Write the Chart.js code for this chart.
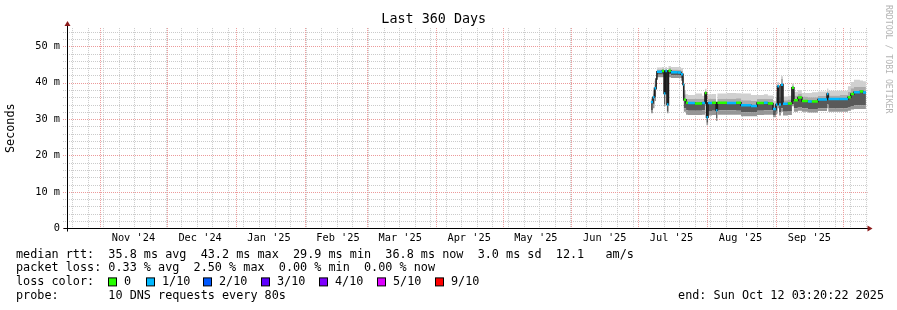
<!DOCTYPE html>
<html lang="en">

<head>
    <meta charset="UTF-8" />
    <title>Last 360 Days</title>
    <script src="https://cdn.jsdelivr.net/npm/chart.js"></script>
    <style>
        body {
            margin: 0;
            background: #fff;
        }

        #wrap {
            width: 897px;
            height: 310px;
        }
    </style>
</head>

<body>
    <div id="wrap"><canvas id="smoke" width="897" height="310"></canvas></div>

    <script>
        // x = days since window start (Oct 17 2024 03:20), values in ms; each step holds until the next one
        const days = [262.6, 263.5, 264.2, 264.9, 265.3, 267.6, 268.5, 269.1, 269.8, 270.5,
            271.6, 274.7, 276.1, 277.0, 277.4, 278.4, 279.3, 282.4, 285.6, 286.9,
            287.6, 288.3, 290.1, 291.9, 292.5, 296.8, 300.9, 303.1, 307.6, 310.3,
            313.4, 315.2, 317.5, 318.8, 319.5, 320.2, 321.1, 322.0, 324.2, 326.0,
            326.9, 328.7, 330.5, 333.2, 335.0, 337.7, 341.8, 342.4, 347.6, 351.2,
            352.5, 353.9, 356.6, 358.0, 359.3];
        const smokeLo = [31.6, 33.0, 35.0, 38.0, 41.5, 41.5, 33.5, 41.5, 31.6, 41.5,
            41.3, 41.3, 40.5, 35.0, 32.0, 31.2, 31.1, 31.1, 31.2, 34.0,
            28.3, 31.0, 31.1, 29.5, 31.2, 31.2, 31.2, 30.8, 30.8, 31.1,
            31.2, 31.2, 30.5, 31.3, 33.0, 31.0, 32.0, 31.0, 31.1, 33.5,
            32.0, 32.3, 32.0, 31.8, 31.8, 32.2, 33.0, 32.0, 32.0, 32.3,
            32.6, 32.8, 32.8, 32.8, 32.8];
        const smokeLoIn = [32.5, 34.0, 36.0, 39.0, 42.2, 42.2, 34.0, 42.2, 32.0, 42.3,
            42.0, 42.0, 41.3, 36.0, 33.0, 32.4, 32.3, 32.3, 32.4, 34.6,
            29.0, 32.2, 32.3, 30.3, 32.4, 32.4, 32.3, 31.9, 31.8, 32.3,
            32.4, 32.4, 31.0, 32.0, 34.0, 31.8, 33.0, 32.0, 32.2, 34.0,
            33.0, 33.3, 33.0, 32.8, 32.8, 33.0, 34.0, 32.9, 33.0, 33.3,
            33.6, 33.8, 33.8, 33.8, 33.8];
        const medianRtt = [34.7, 36.0, 38.5, 41.0, 43.0, 43.2, 37.0, 43.2, 34.0, 43.3,
            42.9, 42.8, 42.3, 39.5, 35.3, 34.5, 34.4, 34.3, 34.4, 37.2,
            30.5, 34.4, 34.5, 32.4, 34.5, 34.4, 34.5, 33.8, 33.6, 34.4,
            34.5, 34.3, 32.8, 34.0, 39.0, 34.0, 39.4, 34.2, 34.3, 38.6,
            35.2, 35.9, 35.0, 34.8, 34.8, 35.4, 36.9, 35.5, 35.5, 36.0,
            36.9, 37.4, 37.6, 37.3, 37.3];
        const smokeHiIn = [35.5, 37.0, 39.5, 42.0, 43.6, 43.8, 42.8, 43.8, 42.5, 44.0,
            43.6, 43.5, 43.2, 41.5, 36.8, 35.6, 35.5, 35.6, 35.5, 37.8,
            33.0, 35.6, 35.6, 34.0, 35.6, 35.6, 35.7, 35.2, 35.0, 35.5,
            35.6, 35.5, 34.0, 36.0, 39.6, 35.0, 41.0, 35.2, 35.4, 39.2,
            36.5, 37.0, 36.2, 36.0, 36.0, 36.4, 37.6, 36.5, 36.6, 37.5,
            38.5, 38.8, 38.9, 38.8, 38.8];
        const smokeHi = [36.1, 38.0, 40.5, 43.0, 44.2, 44.3, 43.6, 44.3, 43.5, 44.6,
            44.3, 44.3, 44.0, 42.5, 38.0, 36.8, 36.6, 37.0, 36.4, 38.3,
            34.0, 36.8, 36.9, 35.0, 37.0, 37.2, 37.1, 37.0, 36.6, 36.6,
            36.8, 36.5, 35.0, 37.5, 40.2, 36.0, 41.8, 36.2, 36.4, 39.8,
            37.5, 38.0, 37.2, 37.2, 37.4, 37.6, 38.4, 37.8, 37.8, 39.0,
            40.2, 40.8, 40.6, 40.4, 40.4];
        // lost pings out of 10 for each step
        const lossCount = [1, 1, 1, 1, 1, 0, 1, 1, 1, 0,
            1, 1, 1, 1, 0, 0, 1, 0, 1, 0,
            1, 1, 0, 1, 0, 1, 0, 1, 1, 0,
            1, 0, 1, 1, 1, 1, 1, 1, 0, 0,
            0, 0, 0, 1, 0, 1, 1, 1, 1, 0,
            0, 1, 0, 1, 1];

        const lossLabels = ['0', '1/10', '2/10', '3/10', '4/10', '5/10', '9/10'];
        const lossColors = ['#26ff00', '#00b8ff', '#0059ff', '#5e00ff', '#7e00ff', '#dd00ff', '#ff0000'];

        const monthStarts = [14.86, 44.86, 75.86, 106.86, 134.86, 165.86, 195.86, 226.86, 256.86, 287.86, 318.86, 348.86];
        const monthTicks = [29.86, 59.86, 90.86, 121.86, 149.86, 180.86, 210.86, 241.86, 271.86, 302.86, 333.86];
        const monthLabels = ["Nov '24", "Dec '24", "Jan '25", "Feb '25", "Mar '25", "Apr '25", "May '25", "Jun '25", "Jul '25", "Aug '25", "Sep '25"];
        const yTicks = [0, 10, 20, 30, 40, 50];

        const legendLines = [
            "median rtt:  35.8 ms avg  43.2 ms max  29.9 ms min  36.8 ms now  3.0 ms sd  12.1   am/s",
            "packet loss: 0.33 % avg  2.50 % max  0.00 % min  0.00 % now",
            "loss color:",
            "probe:       10 DNS requests every 80s"
        ];
        const endText = "end: Sun Oct 12 03:20:22 2025";

        const MONO = "'DejaVu Sans Mono', monospace";
        const GRID_GREY = '#cbcbcb';
        const GRID_RED = '#ec9a9a';

        function pts(arr) {
            return days.map((d, i) => ({ x: d, y: arr[i] }));
        }

        // median as flat pieces only (verticals come from the dark step line underneath)
        const medPieces = [];
        days.forEach((d, i) => {
            if (i === days.length - 1) return;
            medPieces.push({ x: d, y: medianRtt[i] }, { x: days[i + 1], y: medianRtt[i] }, { x: days[i + 1], y: null });
        });

        function band(arr, color) {
            return {
                data: pts(arr),
                xAxisID: 'x', yAxisID: 'y',
                stepped: true,
                borderWidth: 0,
                pointRadius: 0,
                backgroundColor: color,
                fill: '-1',
                order: 2
            };
        }

        // dotted rrdtool-style grid, drawn from the scales' own ticks
        const dottedGrid = {
            id: 'dottedGrid',
            beforeDatasetsDraw(chart) {
                const ctx = chart.ctx, a = chart.chartArea;
                ctx.save();
                ctx.lineWidth = 1;
                ctx.setLineDash([1, 1]);
                const vert = (id, color) => {
                    const s = chart.scales[id];
                    ctx.strokeStyle = color;
                    ctx.beginPath();
                    s.ticks.forEach(t => {
                        const px = Math.round(s.getPixelForValue(t.value)) + 0.5;
                        ctx.moveTo(px, a.top);
                        ctx.lineTo(px, a.bottom);
                    });
                    ctx.stroke();
                };
                const horiz = (id, color) => {
                    const s = chart.scales[id];
                    ctx.strokeStyle = color;
                    ctx.beginPath();
                    s.ticks.forEach(t => {
                        const py = Math.round(s.getPixelForValue(t.value)) + 0.5;
                        ctx.moveTo(a.left - 4, py);
                        ctx.lineTo(a.right, py);
                    });
                    ctx.stroke();
                };
                horiz('yMin', GRID_GREY);
                vert('xMin', GRID_GREY);
                horiz('y', GRID_RED);
                vert('xMaj', GRID_RED);
                ctx.restore();
            }
        };

        const decor = {
            id: 'decor',
            afterDraw(chart) {
                const ctx = chart.ctx, a = chart.chartArea;
                ctx.save();
                const x0 = Math.round(a.left) + 0.5, y0 = Math.round(a.bottom) + 0.5;
                ctx.strokeStyle = '#000';
                ctx.lineWidth = 1;
                ctx.beginPath();
                ctx.moveTo(x0, a.top - 3);
                ctx.lineTo(x0, y0 + 3);
                ctx.moveTo(x0 - 4, y0);
                ctx.lineTo(a.right + 1, y0);
                ctx.stroke();

                ctx.fillStyle = '#8b1a1a';
                ctx.beginPath();
                ctx.moveTo(x0, a.top - 7);
                ctx.lineTo(x0 - 3, a.top - 2);
                ctx.lineTo(x0 + 3, a.top - 2);
                ctx.fill();
                ctx.beginPath();
                ctx.moveTo(a.right + 5, y0);
                ctx.lineTo(a.right, y0 - 3);
                ctx.lineTo(a.right, y0 + 3);
                ctx.fill();

                // legend
                ctx.font = '11.8px ' + MONO;
                ctx.textBaseline = 'middle';
                ctx.textAlign = 'left';
                ctx.fillStyle = '#000';
                const rowY = [254.5, 268.2, 281.9, 295.6];
                legendLines.forEach((t, r) => ctx.fillText(t, 16, rowY[r]));
                const boxX = [108.5, 146.5, 203.5, 261.5, 319.5, 377.5, 435.5];
                lossLabels.forEach((lab, i) => {
                    ctx.fillStyle = lossColors[i];
                    ctx.fillRect(boxX[i], rowY[2] - 4, 8, 8);
                    ctx.strokeStyle = '#000';
                    ctx.strokeRect(boxX[i], rowY[2] - 4, 8, 8);
                    ctx.fillStyle = '#000';
                    ctx.fillText(lab, boxX[i] + 15.5, rowY[2]);
                });
                ctx.textAlign = 'right';
                ctx.fillText(endText, 884, rowY[3]);

                // watermark
                ctx.translate(888, 5);
                ctx.rotate(Math.PI / 2);
                ctx.font = '8.2px ' + MONO;
                ctx.fillStyle = '#b4b4b4';
                ctx.textAlign = 'left';
                ctx.fillText('RRDTOOL / TOBI OETIKER', 0, 0);
                ctx.restore();
            }
        };

        const gridScale = (axis, ticksFn) => ({
            type: 'linear', axis: axis, position: axis === 'x' ? 'bottom' : 'left',
            min: 0, max: axis === 'x' ? 360 : 55,
            grid: { display: false },
            border: { display: false },
            ticks: { display: false },
            afterBuildTicks: s => { s.ticks = ticksFn().map(v => ({ value: v })); },
            afterFit: s => { if (axis === 'x') s.height = 0; else s.width = 0; }
        });

        new Chart(document.getElementById('smoke'), {
            type: 'line',
            data: {
                datasets: [
                    { data: pts(smokeLo), xAxisID: 'x', yAxisID: 'y', stepped: true, borderWidth: 0, pointRadius: 0, fill: false, order: 2 },
                    band(smokeLoIn, '#969696'),
                    band(medianRtt, '#595959'),
                    band(smokeHiIn, '#ababab'),
                    band(smokeHi, '#d0d0d0'),
                    {
                        data: pts(medianRtt),
                        xAxisID: 'x', yAxisID: 'y',
                        stepped: true,
                        borderWidth: 1.5,
                        borderColor: '#1c1c1c',
                        pointRadius: 0,
                        fill: false,
                        order: 1
                    },
                    {
                        data: medPieces,
                        xAxisID: 'x', yAxisID: 'y',
                        borderWidth: 2.5,
                        pointRadius: 0,
                        fill: false,
                        spanGaps: false,
                        borderColor: lossColors[1],
                        segment: {
                            borderColor: c => lossColors[lossCount[Math.floor(c.p0DataIndex / 3)] > 0 ? 1 : 0]
                        },
                        order: 0
                    }
                ]
            },
            options: {
                responsive: false,
                animation: false,
                devicePixelRatio: 1,
                layout: { padding: { left: 0, right: 29.5, top: 0, bottom: 0 } },
                plugins: {
                    legend: { display: false },
                    tooltip: { enabled: false },
                    title: {
                        display: true,
                        text: 'Last 360 Days',
                        color: '#000',
                        font: { family: MONO, size: 13.4, weight: 'normal' },
                        padding: { top: 11, bottom: 1 }
                    }
                },
                scales: {
                    x: {
                        type: 'linear', axis: 'x', position: 'bottom', min: 0, max: 360,
                        grid: { display: false, drawTicks: false },
                        border: { display: false },
                        ticks: {
                            autoSkip: false, maxRotation: 0, padding: 4, color: '#000',
                            font: { family: MONO, size: 10.3 },
                            callback: (v, i) => monthLabels[i]
                        },
                        afterBuildTicks: s => { s.ticks = monthTicks.map(v => ({ value: v })); },
                        afterFit: s => { s.height = 81.7; }
                    },
                    xMaj: gridScale('x', () => monthStarts),
                    xMin: gridScale('x', () => {
                        const t = [];
                        for (let d = 2.35; d < 360; d += 7) t.push(d);
                        return t;
                    }),
                    y: {
                        type: 'linear', axis: 'y', position: 'left', min: 0, max: 55,
                        grid: { display: false, drawTicks: false },
                        border: { display: false },
                        ticks: {
                            padding: 7, color: '#000',
                            font: { family: MONO, size: 10.3 },
                            callback: v => v === 0 ? '0' : v + ' m'
                        },
                        title: {
                            display: true, text: 'Seconds', color: '#000',
                            font: { family: MONO, size: 11.8 }, padding: { top: 4, bottom: 0 }
                        },
                        afterBuildTicks: s => { s.ticks = yTicks.map(v => ({ value: v })); },
                        afterFit: s => { s.width = 67; }
                    },
                    yMin: gridScale('y', () => {
                        const t = [];
                        for (let v = 0; v <= 54; v += 2) t.push(v);
                        return t;
                    })
                }
            },
            plugins: [dottedGrid, decor]
        });
    </script>
</body>

</html>
